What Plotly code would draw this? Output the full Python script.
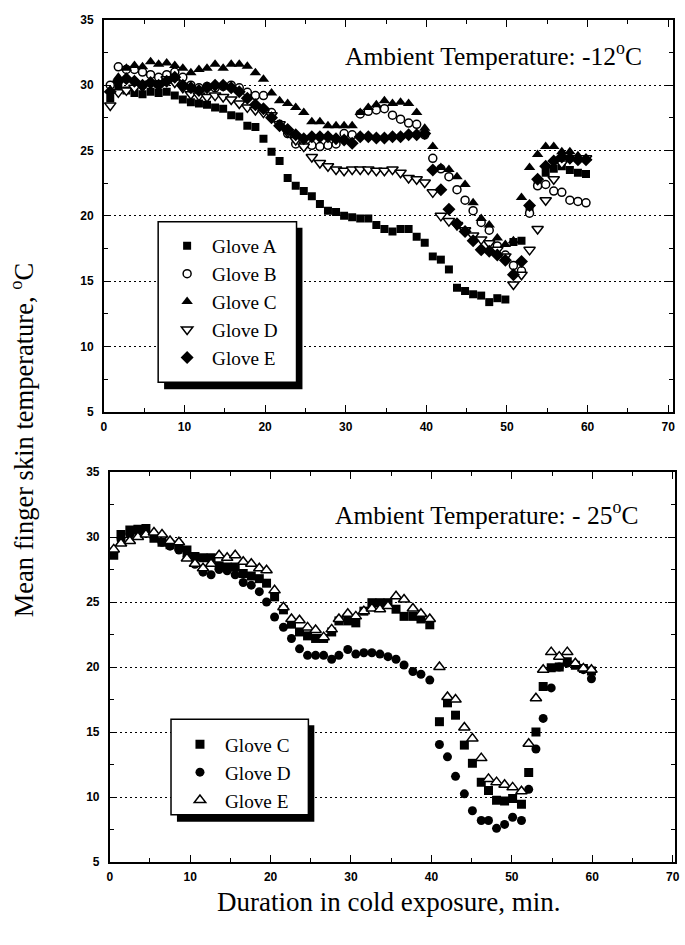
import plotly.graph_objects as go

W, H = 685, 945

# ---------------- data: top panel (ambient -12 C) ----------------
T_TOP = [0.8, 1.8, 2.8, 3.8, 4.8, 5.8, 6.8, 7.8, 8.8, 9.8,
         10.8, 11.8, 12.8, 13.8, 14.8, 15.8, 16.8, 17.8, 18.8, 19.8,
         20.8, 21.8, 22.8, 23.8, 24.8, 25.8, 26.8, 27.8, 28.8, 29.8,
         30.8, 31.8, 32.8, 33.8, 34.8, 35.8, 36.8, 37.8, 38.8, 39.8,
         40.8, 41.8, 42.8, 43.8, 44.8, 45.8, 46.8, 47.8, 48.8, 49.8,
         50.8, 51.8, 52.8, 53.8, 54.8, 55.8, 56.8, 57.8, 58.8, 59.8]

GLOVE_A_12 = [29.0, 30.0, 29.6, 29.4, 29.3, 29.5, 29.4, 29.5, 29.2, 28.9,
              28.7, 28.6, 28.5, 28.3, 28.2, 27.7, 27.6, 26.9, 26.8, 25.9,
              24.9, 24.2, 22.9, 22.3, 21.9, 21.5, 20.9, 20.4, 20.3, 20.0,
              19.9, 19.8, 19.8, 19.3, 19.0, 18.8, 19.0, 19.0, 18.4, 17.95,
              16.9, 16.65, 15.9, 14.5, 14.25, 14.0, 13.9, 13.4, 13.7, 13.6,
              18.0, 18.1, 20.4, 22.4, 23.3, 23.6, 23.8, 23.5, 23.3, 23.2]

GLOVE_B_12 = [30.0, 31.4, 31.2, 31.2, 31.0, 30.8, 30.6, 30.8, 31.0, 30.6,
              30.0, 29.8, 29.9, 29.8, 29.9, 30.0, 29.8, 29.45, 29.2, 29.2,
              27.9, 27.0, 26.3, 25.5, 25.4, 25.4, 25.3, 25.4, 25.5, 26.3,
              26.2, 27.8, 28.0, 28.1, 28.2, 27.7, 27.4, 27.1, 27.0, 26.2,
              24.4, 23.6, 23.0, 22.0, 21.2, 20.4, 19.5, 18.9, 17.7, 17.0,
              16.2, 15.8, 20.2, 22.3, 22.4, 21.9, 21.8, 21.2, 21.1, 21.0]

GLOVE_C_12 = [29.6, 30.6, 31.3, 31.5, 31.4, 31.8, 31.6, 31.7, 31.5, 31.3,
              30.95, 31.2, 31.3, 31.6, 31.3, 31.6, 31.6, 31.45, 30.95, 30.45,
              29.4, 28.8, 28.6, 28.3, 27.9, 27.2, 27.2, 26.9, 26.9, 26.9,
              26.9, 27.9, 28.3, 28.5, 28.8, 28.6, 28.7, 28.6, 27.9, 26.7,
              25.3, 23.7, 23.55, 23.0, 22.4, 21.0, 19.8, 19.3, 18.3, 17.8,
              18.1, 21.4, 23.7, 24.7, 25.3, 25.3, 24.9, 24.9, 24.6, 24.4]

GLOVE_D_12 = [28.45, 29.45, 29.6, 29.8, 29.9, 30.1, 30.1, 30.45, 30.2, 29.8,
              29.3, 29.2, 29.1, 29.2, 29.1, 28.9, 28.6, 28.3, 28.1, 27.9,
              27.7, 27.0, 26.4, 25.8, 25.3, 24.5, 24.05, 23.8, 23.55, 23.45,
              23.55, 23.55, 23.55, 23.45, 23.45, 23.55, 23.3, 22.9, 22.8, 22.55,
              21.8, 20.0, 19.6, 19.3, 18.9, 18.5, 18.2, 17.9, 17.4, 16.9,
              14.75, 15.5, 17.4, 19.0, 21.2, 22.8, 24.0, 24.4, 24.4, 24.4]

GLOVE_E_12 = [29.5, 30.3, 30.5, 30.3, 30.0, 30.2, 30.0, 30.3, 30.6, 30.0,
              29.8, 29.6, 29.8, 30.0, 30.0, 29.8, 29.5, 29.0, 28.5, 28.2,
              27.5, 26.9, 26.6, 26.2, 25.9, 26.05, 26.05, 26.05, 25.9, 25.8,
              25.56, 26.05, 26.05, 25.95, 25.95, 26.05, 26.05, 26.2, 26.2, 26.3,
              23.5, 22.0, 20.5, 19.4, 18.8, 18.1, 17.4, 17.3, 17.0, 16.6,
              15.5, 16.5, 20.8, 22.8, 23.8, 24.2, 24.5, 24.4, 24.3, 24.3]

# ---------------- data: bottom panel (ambient -25 C) ----------------
T_BOT = [0.5, 1.4, 2.5, 3.5, 4.5, 5.5, 6.5, 7.5, 8.6, 9.6,
         10.6, 11.6, 12.6, 13.6, 14.6, 15.6, 16.6, 17.6, 18.6, 19.5,
         20.5, 21.6, 22.6, 23.6, 24.6, 25.6, 26.6, 27.6, 28.5, 29.6,
         30.6, 31.6, 32.6, 33.6, 34.6, 35.6, 36.6, 37.7, 38.7, 39.8,
         41.0, 42.0, 43.0, 44.1, 45.1, 46.2, 47.1, 48.1, 49.1, 50.1,
         51.2, 52.1, 53.0, 53.9, 54.9, 55.9, 56.9, 57.9, 58.9, 59.9]

GLOVE_C_25 = [28.6, 30.2, 30.55, 30.6, 30.65, 29.9, 29.6, 29.4, 29.3, 29.0,
              28.5, 28.4, 28.4, 27.8, 27.7, 27.7, 27.2, 27.0, 26.8, 26.45,
              25.4, 24.4, 23.3, 22.7, 22.4, 22.2, 22.2, 22.7, 23.55, 23.55,
              23.4, 24.3, 24.95, 24.95, 24.95, 24.45, 23.9, 23.9, 23.7, 23.25,
              15.8, 17.25, 16.3, 14.0, 12.6, 11.15, 10.5, 9.75, 9.7, 9.9,
              9.45, 11.9, 15.0, 18.5, 19.95, 20.0, 20.4, 20.15, 19.9, 19.7]

GLOVE_D_25 = [28.8, 29.8, 30.2, 30.4, 30.3, 30.0, 29.6, 29.3, 29.0, 28.5,
              27.9, 27.3, 27.1, 27.5, 27.4, 27.1, 26.5, 26.3, 25.8, 25.0,
              23.85, 23.06, 22.2, 21.4, 20.9, 20.9, 20.9, 20.6, 20.9, 21.35,
              21.0, 21.1, 21.1, 21.0, 20.8, 20.6, 20.16, 19.66, 19.45, 19.0,
              14.05, 13.1, 11.6, 10.25, 8.95, 8.2, 8.2, 7.6, 7.9, 8.45,
              8.2, 10.6, 13.7, 16.05, 18.4, 20.0, 20.3, 20.2, 19.8, 19.1]

GLOVE_E_25 = [29.05, 29.5, 29.7, 30.0, 30.2, 30.35, 30.2, 29.7, 29.6, 28.35,
              27.95, 27.6, 27.95, 28.6, 28.4, 28.6, 28.1, 27.95, 27.6, 27.45,
              25.9, 24.6, 23.7, 23.6, 23.05, 22.85, 22.3, 22.9, 23.7, 24.1,
              23.9, 24.3, 24.5, 24.45, 24.7, 25.45, 25.2, 24.5, 24.1, 23.7,
              20.0, 17.7, 17.5, 15.35, 14.5, 13.0, 11.4, 11.15, 10.95, 10.75,
              10.45, 14.1, 17.6, 19.8, 21.15, 20.8, 21.15, 20.3, 19.9, 19.8]

X_TICKS = [0, 10, 20, 30, 40, 50, 60, 70]
Y_TICKS = [5, 10, 15, 20, 25, 30, 35]

SERIF = "Liberation Serif, Times New Roman, serif"
SANS = "Liberation Sans, Arial, sans-serif"


def px_x(p):
    return p / W


def px_y(p):
    return 1 - p / H


fig = go.Figure()

top_series = [
    ("Glove A", GLOVE_A_12, dict(symbol="square", size=8, color="black")),
    ("Glove B", GLOVE_B_12, dict(symbol="circle", size=8, color="white",
                                 line=dict(color="black", width=1.5))),
    ("Glove C", GLOVE_C_12, dict(symbol="triangle-up", size=10, color="black")),
    ("Glove D", GLOVE_D_12, dict(symbol="triangle-down", size=10, color="white",
                                 line=dict(color="black", width=1.5))),
    ("Glove E", GLOVE_E_12, dict(symbol="diamond", size=10, color="black")),
]
for i, (name, vals, mk) in enumerate(top_series):
    fig.add_trace(go.Scatter(x=T_TOP, y=vals, mode="markers", name=name,
                             marker=mk, xaxis="x", yaxis="y",
                             legend="legend", legendgroup="t%d" % i))

bot_series = [
    ("Glove C", GLOVE_C_25, dict(symbol="square", size=9, color="black")),
    ("Glove D", GLOVE_D_25, dict(symbol="circle", size=9, color="black")),
    ("Glove E", GLOVE_E_25, dict(symbol="triangle-up", size=10, color="white",
                                 line=dict(color="black", width=1.5))),
]
for i, (name, vals, mk) in enumerate(bot_series):
    fig.add_trace(go.Scatter(x=T_BOT, y=vals, mode="markers", name=name,
                             marker=mk, xaxis="x2", yaxis="y2",
                             legend="legend2", legendgroup="b%d" % i))


def xaxis(domain, rng, anchor):
    return dict(domain=domain, range=rng, anchor=anchor,
                tickvals=X_TICKS, ticks="inside", ticklen=7, tickwidth=1.2,
                tickcolor="black", showline=True, linecolor="black",
                linewidth=1.6, mirror="ticks", showgrid=False, zeroline=False,
                ticklabelstandoff=3,
                tickfont=dict(family=SANS, size=12, color="black", weight="bold"),
                minor=dict(dtick=5, ticks="inside", ticklen=4, tickcolor="black",
                           tickwidth=1.2, showgrid=False))


def yaxis(domain, anchor):
    return dict(domain=domain, range=[5, 35], anchor=anchor,
                tickvals=Y_TICKS, ticks="inside", ticklen=7, tickwidth=1.2,
                tickcolor="black", showline=True, linecolor="black",
                linewidth=1.6, mirror="ticks", showgrid=True,
                gridcolor="black", griddash="2px,3px", gridwidth=1.2,
                zeroline=False, ticklabelstandoff=6,
                tickfont=dict(family=SANS, size=12, color="black", weight="bold"),
                minor=dict(dtick=2.5, ticks="inside", ticklen=4, tickcolor="black",
                           tickwidth=1.2, showgrid=False))


shapes = []
# legend frames with drop shadow (top: -12 C, bottom: -25 C)
for (x0, y0, x1, y1) in [(157, 218, 297, 381), (170, 723, 309, 820)]:
    shapes.append(dict(type="rect", xref="paper", yref="paper", layer="above",
                       x0=px_x(x0 + 6), x1=px_x(x1 + 6), y0=px_y(y1 + 7), y1=px_y(y0 + 6),
                       fillcolor="black", line=dict(width=0)))
    shapes.append(dict(type="rect", xref="paper", yref="paper", layer="above",
                       x0=px_x(x0), x1=px_x(x1), y0=px_y(y1), y1=px_y(y0),
                       fillcolor="white", line=dict(color="black", width=1.5)))

annotations = [
    dict(text="Ambient Temperature: -12<sup>o</sup>C", xref="paper", yref="paper",
         x=px_x(344), y=px_y(48), xanchor="left", yanchor="middle", showarrow=False,
         font=dict(family=SERIF, size=25.5, color="black")),
    dict(text="Ambient Temperature: - 25<sup>o</sup>C", xref="paper", yref="paper",
         x=px_x(334), y=px_y(514), xanchor="left", yanchor="middle", showarrow=False,
         font=dict(family=SERIF, size=25.5, color="black")),
    dict(text="Mean finger skin temperature, <sup>o</sup>C", xref="paper", yref="paper",
         x=px_x(20), y=px_y(440), xanchor="center", yanchor="middle", showarrow=False,
         textangle=-90, font=dict(family=SERIF, size=26.5, color="black")),
    dict(text="Duration in cold exposure, min.", xref="paper", yref="paper",
         x=px_x(390), y=px_y(908), xanchor="center", yanchor="middle", showarrow=False,
         font=dict(family=SERIF, size=27, color="black")),
]

legend_common = dict(xanchor="left", yanchor="top", bgcolor="rgba(0,0,0,0)",
                     borderwidth=0, tracegroupgap=0, itemclick=False, itemwidth=40,
                     font=dict(family=SERIF, size=19.2, color="black"))

fig.update_layout(
    width=W, height=H,
    margin=dict(l=0, r=0, t=0, b=0),
    paper_bgcolor="white", plot_bgcolor="white",
    xaxis=xaxis([px_x(102), px_x(678)], [0, 70.6], "y"),
    yaxis=yaxis([px_y(411), px_y(13)], "x"),
    xaxis2=xaxis([px_x(108), px_x(680)], [0, 70.3], "y2"),
    yaxis2=yaxis([px_y(868), px_y(472)], "x2"),
    legend=dict(x=px_x(161), y=px_y(223), **legend_common),
    legend2=dict(x=px_x(174), y=px_y(729), **legend_common),
    shapes=shapes,
    annotations=annotations,
    showlegend=True,
)

fig.write_html("out.html")
